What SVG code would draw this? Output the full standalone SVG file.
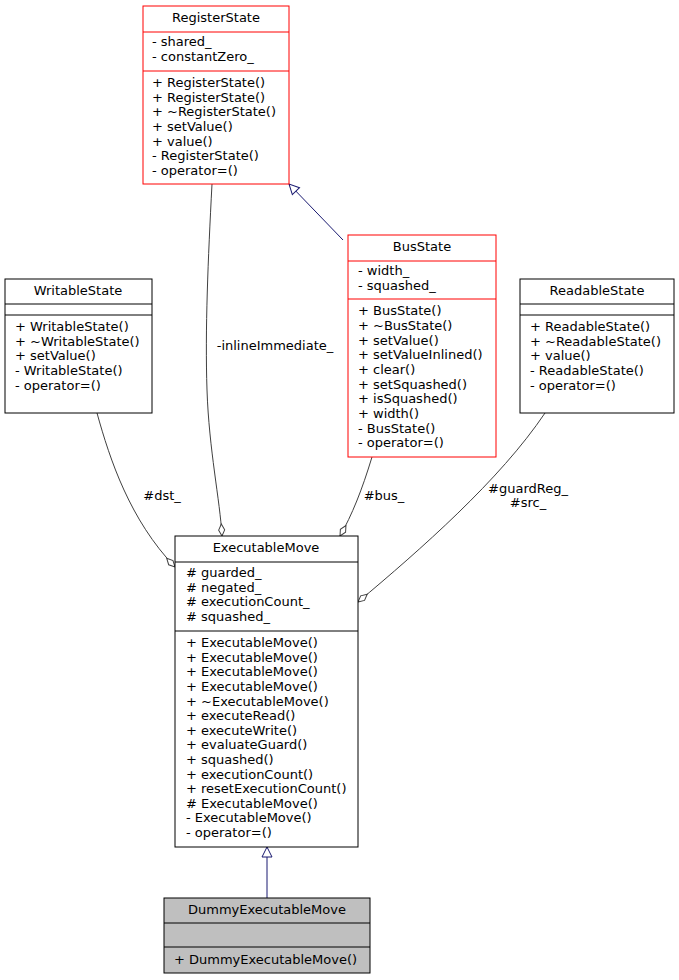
<svg xmlns="http://www.w3.org/2000/svg" width="679" height="980" viewBox="0 0 679 980">
<style>
text{font-family:"DejaVu Sans",sans-serif;font-size:13px;fill:#000}
.c{text-anchor:middle}
.b{fill:#fff;stroke:#000;stroke-width:1}
.r{fill:#fff;stroke:#ff0000;stroke-width:1}
.g{fill:#bfbfbf;stroke:#000;stroke-width:1}
.e{fill:none;stroke:#404040;stroke-width:1}
.i{fill:none;stroke:#191970;stroke-width:1}
</style>
<defs>
<marker id="dia" markerWidth="14" markerHeight="8" refX="13" refY="4" orient="auto" markerUnits="userSpaceOnUse">
<path d="M1,4 L7,1 L13,4 L7,7 Z" fill="#fff" stroke="#404040"/>
</marker>
<marker id="tri" markerWidth="12" markerHeight="12" refX="11" refY="6" orient="auto" markerUnits="userSpaceOnUse">
<path d="M1,1 L11,6 L1,11 Z" fill="#fff" stroke="#191970"/>
</marker>
</defs>
<rect width="679" height="980" fill="#fff"/>
<g id="connectors">
<path class="e" d="M212,184 C208,260 205,330 207,390 C209,450 220,500 222,536" marker-end="url(#dia)"/>
<text x="275" y="350" class="c">-inlineImmediate_</text>
<path class="i" d="M343,240 L289,184" marker-end="url(#tri)"/>
<path class="e" d="M97,413 C110,460 130,520 175,567" marker-end="url(#dia)"/>
<text x="162" y="500" class="c">#dst_</text>
<path class="e" d="M372,457 C362,490 352,515 340,536" marker-end="url(#dia)"/>
<text x="384" y="500" class="c">#bus_</text>
<path class="e" d="M545,413 C500,480 420,550 358,602" marker-end="url(#dia)"/>
<text x="528" y="493" class="c">#guardReg_</text>
<text x="528" y="507" class="c">#src_</text>
<path class="i" d="M267,898 L267,847" marker-end="url(#tri)"/>
</g>
<g id="RegisterState">
<rect class="r" x="143" y="6" width="146" height="178"/>
<line x1="143" y1="32" x2="289" y2="32" stroke="#f00"/>
<line x1="143" y1="71" x2="289" y2="71" stroke="#f00"/>
<text x="216" y="22" class="c">RegisterState</text>
<text x="152" y="46">- shared_</text>
<text x="152" y="61">- constantZero_</text>
<text x="152" y="87">+ RegisterState()</text>
<text x="152" y="102">+ RegisterState()</text>
<text x="152" y="116">+ ~RegisterState()</text>
<text x="152" y="131">+ setValue()</text>
<text x="152" y="146">+ value()</text>
<text x="152" y="160">- RegisterState()</text>
<text x="152" y="175">- operator=()</text>
</g>
<g id="BusState">
<rect class="r" x="348" y="235" width="148" height="222"/>
<line x1="348" y1="261" x2="496" y2="261" stroke="#f00"/>
<line x1="348" y1="299" x2="496" y2="299" stroke="#f00"/>
<text x="422" y="251" class="c">BusState</text>
<text x="358" y="275">- width_</text>
<text x="358" y="290">- squashed_</text>
<text x="358" y="315">+ BusState()</text>
<text x="358" y="330">+ ~BusState()</text>
<text x="358" y="345">+ setValue()</text>
<text x="358" y="359">+ setValueInlined()</text>
<text x="358" y="374">+ clear()</text>
<text x="358" y="389">+ setSquashed()</text>
<text x="358" y="403">+ isSquashed()</text>
<text x="358" y="418">+ width()</text>
<text x="358" y="433">- BusState()</text>
<text x="358" y="447">- operator=()</text>
</g>
<g id="WritableState">
<rect class="b" x="5" y="279" width="147" height="134"/>
<line x1="5" y1="304" x2="152" y2="304" stroke="#000"/>
<line x1="5" y1="315" x2="152" y2="315" stroke="#000"/>
<text x="78" y="295" class="c">WritableState</text>
<text x="15" y="331">+ WritableState()</text>
<text x="15" y="346">+ ~WritableState()</text>
<text x="15" y="360">+ setValue()</text>
<text x="15" y="375">- WritableState()</text>
<text x="15" y="390">- operator=()</text>
</g>
<g id="ReadableState">
<rect class="b" x="520" y="279" width="154" height="134"/>
<line x1="520" y1="304" x2="674" y2="304" stroke="#000"/>
<line x1="520" y1="315" x2="674" y2="315" stroke="#000"/>
<text x="597" y="295" class="c">ReadableState</text>
<text x="530" y="331">+ ReadableState()</text>
<text x="530" y="346">+ ~ReadableState()</text>
<text x="530" y="360">+ value()</text>
<text x="530" y="375">- ReadableState()</text>
<text x="530" y="390">- operator=()</text>
</g>
<g id="ExecutableMove">
<rect class="b" x="175" y="536" width="183" height="311"/>
<line x1="175" y1="562" x2="358" y2="562" stroke="#000"/>
<line x1="175" y1="631" x2="358" y2="631" stroke="#000"/>
<text x="266" y="552" class="c">ExecutableMove</text>
<text x="186" y="577">#  guarded_</text>
<text x="186" y="592">#  negated_</text>
<text x="186" y="606">#  executionCount_</text>
<text x="186" y="621">#  squashed_</text>
<text x="186" y="647">+ ExecutableMove()</text>
<text x="186" y="662">+ ExecutableMove()</text>
<text x="186" y="676">+ ExecutableMove()</text>
<text x="186" y="691">+ ExecutableMove()</text>
<text x="186" y="706">+ ~ExecutableMove()</text>
<text x="186" y="720">+ executeRead()</text>
<text x="186" y="735">+ executeWrite()</text>
<text x="186" y="749">+ evaluateGuard()</text>
<text x="186" y="764">+ squashed()</text>
<text x="186" y="779">+ executionCount()</text>
<text x="186" y="793">+ resetExecutionCount()</text>
<text x="186" y="808"># ExecutableMove()</text>
<text x="186" y="822">- ExecutableMove()</text>
<text x="186" y="837">- operator=()</text>
</g>
<g id="DummyExecutableMove">
<rect class="g" x="164" y="898" width="206" height="75"/>
<line x1="164" y1="923" x2="370" y2="923" stroke="#000"/>
<line x1="164" y1="947" x2="370" y2="947" stroke="#000"/>
<text x="267" y="914" class="c">DummyExecutableMove</text>
<text x="174" y="964">+ DummyExecutableMove()</text>
</g>
</svg>
